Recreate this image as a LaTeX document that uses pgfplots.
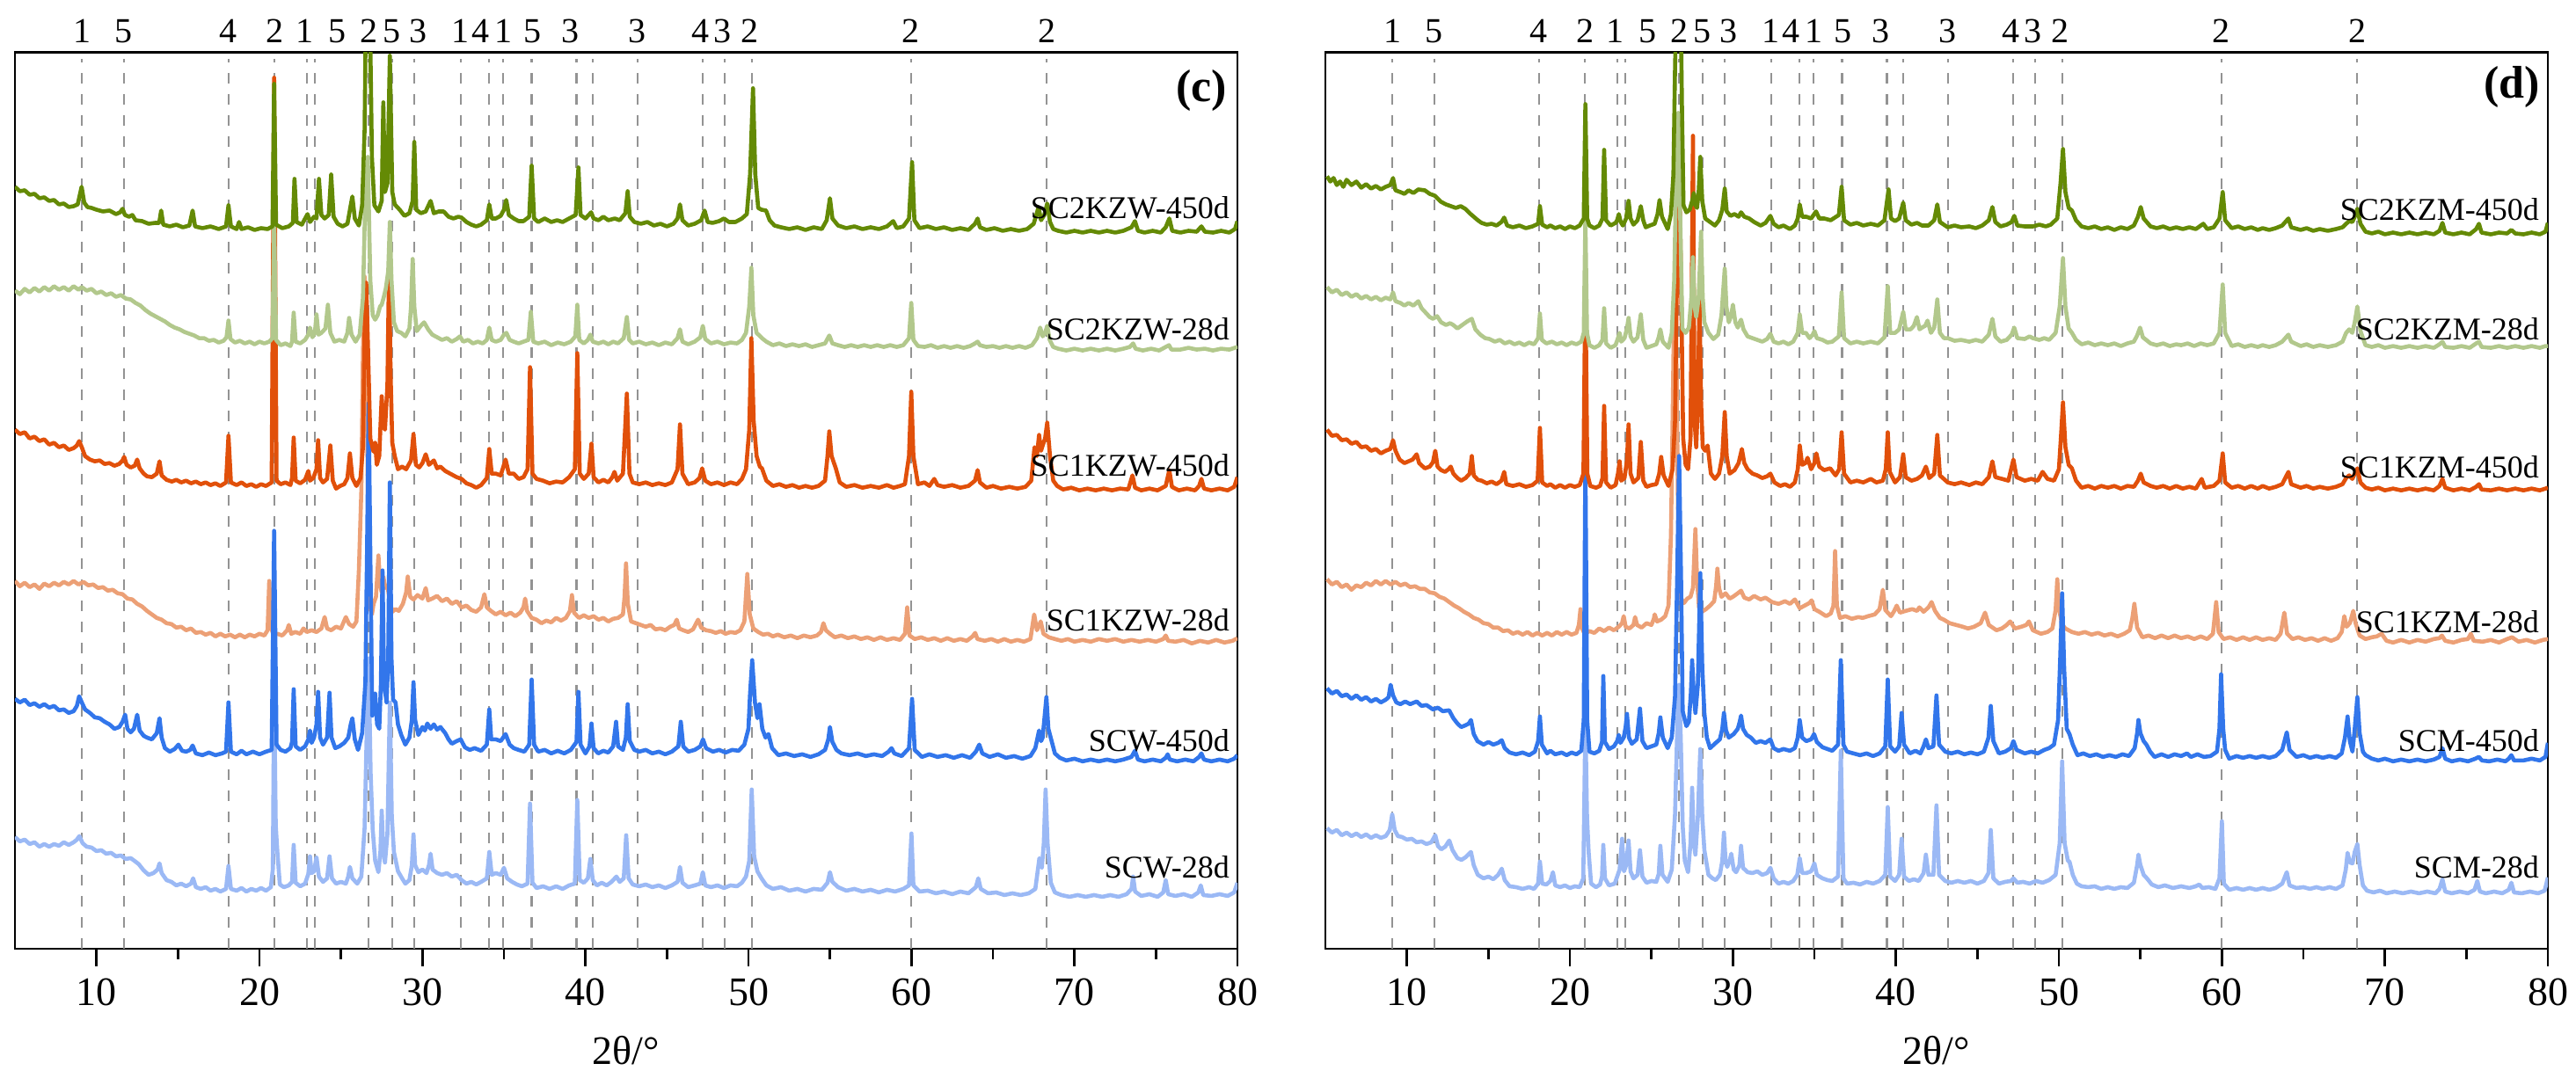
\documentclass[border=0pt]{standalone}
\usepackage{fontspec}
\setmainfont{Liberation Serif}
\usepackage{pgfplots}
\pgfplotsset{compat=1.18}

\definecolor{cdg}{RGB}{100,138,5}
\definecolor{clg}{RGB}{178,200,140}
\definecolor{crd}{RGB}{225,80,10}
\definecolor{csa}{RGB}{236,160,118}
\definecolor{cbl}{RGB}{50,118,235}
\definecolor{clb}{RGB}{155,185,245}

\pgfplotsset{xrd/.style={
  scale only axis, width=347.5pt, height=254.9pt,
  xmin=5, xmax=80, ymin=0, ymax=1019,
  xtick={10,20,...,80}, minor x tick num=1,
  ytick=\empty, xtick pos=left, tick align=outside,
  major tick length=5pt, minor tick length=3pt,
  tick style={black, line width=0.7pt},
  axis line style={line width=0.7pt},
  clip mode=individual,
  xticklabel style={font=\fontsize{11.5}{13}\selectfont},
  /pgf/number format/assume math mode=true,
  anchor=south west,
  every axis plot/.append style={no marks, line width=1.15pt, line join=round},
}}

\tikzset{
  pk/.style={anchor=base, yshift=2.75pt, inner sep=0pt, font=\fontsize{10}{12}\selectfont},
  sl/.style={anchor=base east, inner sep=0pt, font=\fontsize{9}{11}\selectfont},
}

\newcommand{\refl}{%
\addplot[ycomb, no marks, draw=gray!85, line width=0.55pt, dash pattern=on 3pt off 3pt] coordinates {(9.1,1011) (11.7,1011) (18.1,1011) (20.9,1011) (22.9,1011) (23.4,1011) (26.7,1011) (28.15,1011) (29.5,1011) (32.35,1011) (34.1,1011) (34.95,1011) (36.7,1011) (39.45,1011) (40.45,1011) (43.2,1011) (47.2,1011) (48.55,1011) (50.2,1011) (60.0,1011) (68.3,1011)};}

\newcommand{\pklabels}{%
\node[pk] at (axis cs:9.11,1019) {1};
\node[pk] at (axis cs:11.67,1019) {5};
\node[pk] at (axis cs:18.1,1019) {4};
\node[pk] at (axis cs:20.92,1019) {2};
\node[pk] at (axis cs:22.78,1019) {1};
\node[pk] at (axis cs:24.75,1019) {5};
\node[pk] at (axis cs:26.71,1019) {2};
\node[pk] at (axis cs:28.1,1019) {5};
\node[pk] at (axis cs:29.72,1019) {3};
\node[pk] at (axis cs:32.32,1019) {1};
\node[pk] at (axis cs:33.58,1019) {4};
\node[pk] at (axis cs:34.98,1019) {1};
\node[pk] at (axis cs:36.73,1019) {5};
\node[pk] at (axis cs:39.07,1019) {3};
\node[pk] at (axis cs:43.18,1019) {3};
\node[pk] at (axis cs:47.04,1019) {4};
\node[pk] at (axis cs:48.43,1019) {3};
\node[pk] at (axis cs:50.06,1019) {2};
\node[pk] at (axis cs:59.96,1019) {2};
\node[pk] at (axis cs:68.3,1019) {2};
\node[font=\fontsize{11.5}{13}\selectfont] at (axis description cs:0.5,0) [yshift=-29pt] {2θ/°};
}

\begin{document}
\begin{tikzpicture}
\useasboundingbox (0,0) rectangle (732.25pt,306.5pt);

% ---------------- (c) ----------------
\begin{axis}[xrd, at={(4.25pt,36.75pt)}]
\refl
% SCW-28d
\addplot[color=clb] coordinates {(5,127) (5.3,122) (5.6,124) (5.9,119) (6.2,121) (6.5,116) (6.8,119) (7.1,116) (7.4,119) (7.7,117) (8.0,121) (8.3,118) (8.6,121) (8.8,124) (8.95,128) (9.15,120) (9.4,116) (9.7,115) (10.0,111) (10.3,112) (10.6,108) (10.9,109) (11.2,105) (11.5,106) (11.8,102) (12.1,103) (12.4,99) (12.6,96) (12.9,89) (13.2,84) (13.5,86) (13.75,90) (13.87,97) (14.0,86) (14.3,78) (14.6,76) (14.9,72) (15.2,74) (15.5,71) (15.8,74) (15.93,80) (16.1,70) (16.4,68) (16.7,70) (17.0,66) (17.3,68) (17.6,65) (17.95,68) (18.1,94) (18.25,68) (18.6,66) (18.9,69) (19.2,65) (19.5,68) (19.8,66) (20.1,69) (20.4,66) (20.7,70) (20.82,90) (20.9,300) (21.0,140) (21.1,110) (21.25,73) (21.5,70) (21.8,72) (22.0,76) (22.1,118) (22.22,75) (22.5,71) (22.8,74) (23.0,85) (23.1,105) (23.2,86) (23.35,88) (23.5,104) (23.65,82) (23.9,76) (24.15,80) (24.3,105) (24.45,80) (24.7,74) (25.0,76) (25.3,74) (25.45,82) (25.55,93) (25.7,80) (26.0,74) (26.25,82) (26.45,137) (26.6,260) (26.7,330) (26.82,200) (26.95,135) (27.1,100) (27.3,87) (27.42,110) (27.5,157) (27.6,110) (27.7,98) (27.85,130) (28.0,280) (28.12,150) (28.25,110) (28.5,88) (28.75,80) (28.95,74) (29.2,78) (29.35,95) (29.45,130) (29.55,95) (29.75,87) (30.0,90) (30.25,86) (30.4,95) (30.5,108) (30.62,90) (30.9,86) (31.2,84) (31.5,86) (31.8,82) (32.1,84) (32.4,78) (32.7,74) (33.0,76) (33.3,73) (33.6,76) (33.95,80) (34.1,110) (34.25,84) (34.5,86) (34.8,84) (35.0,92) (35.2,80) (35.5,76) (35.8,73) (36.1,71) (36.45,74) (36.6,165) (36.75,75) (37.0,69) (37.4,71) (37.8,68) (38.2,71) (38.6,68) (39.0,72) (39.35,74) (39.5,169) (39.65,78) (39.9,75) (40.15,80) (40.3,102) (40.45,78) (40.7,72) (41.0,75) (41.3,72) (41.6,76) (41.9,82) (42.1,76) (42.35,80) (42.5,129) (42.65,80) (42.9,73) (43.3,71) (43.7,73) (44.1,70) (44.5,72) (44.9,69) (45.3,72) (45.65,76) (45.8,93) (45.95,75) (46.3,70) (46.7,72) (47.05,74) (47.2,87) (47.35,72) (47.7,70) (48.1,72) (48.5,69) (48.9,72) (49.3,71) (49.6,75) (49.85,82) (50.05,100) (50.2,181) (50.35,105) (50.55,88) (50.8,80) (51.1,72) (51.5,68) (52.0,70) (52.5,66) (53.0,68) (53.5,65) (54.0,68) (54.5,67) (54.85,75) (55.0,87) (55.15,76) (55.5,70) (56.0,66) (56.5,68) (57.0,65) (57.5,67) (58.0,64) (58.5,67) (59.0,65) (59.5,68) (59.85,72) (60.0,131) (60.12,72) (60.5,65) (61.0,66) (61.5,63) (62.0,65) (62.5,62) (63.0,65) (63.5,63) (63.95,70) (64.1,80) (64.25,68) (64.7,63) (65.2,64) (65.7,61) (66.2,63) (66.7,61) (67.2,63) (67.6,68) (67.85,103) (68.0,92) (68.12,120) (68.23,181) (68.35,120) (68.55,75) (68.8,64) (69.2,61) (69.7,59) (70.2,61) (70.7,59) (71.2,61) (71.7,59) (72.2,61) (72.7,59) (73.2,62) (73.5,68) (73.6,82) (73.72,65) (74.1,60) (74.6,62) (75.1,59) (75.45,64) (75.6,78) (75.75,62) (76.2,60) (76.7,62) (77.2,59) (77.6,64) (77.75,72) (77.9,61) (78.4,60) (78.9,62) (79.4,60) (79.8,64) (80,75)};
% SC1KZW-28d
\addplot[color=csa] coordinates {(5,418) (5.3,412) (5.6,416) (5.9,411) (6.2,414) (6.5,409) (6.8,415) (7.1,412) (7.4,416) (7.7,413) (8.0,417) (8.3,414) (8.6,418) (8.9,414) (9.2,417) (9.5,413) (9.8,414) (10.1,410) (10.4,411) (10.7,407) (11.0,408) (11.3,404) (11.6,403) (11.9,398) (12.2,397) (12.5,392) (12.8,389) (13.1,384) (13.4,380) (13.7,376) (14.0,374) (14.3,370) (14.6,369) (14.9,365) (15.2,366) (15.5,362) (15.8,364) (16.1,359) (16.4,360) (16.7,357) (17.0,359) (17.3,355) (17.6,358) (17.9,355) (18.2,357) (18.5,354) (18.8,357) (19.1,354) (19.4,357) (19.7,355) (20.0,358) (20.3,356) (20.5,362) (20.6,418) (20.72,365) (20.85,357) (21.1,358) (21.4,356) (21.7,362) (21.8,368) (21.95,358) (22.2,360) (22.5,358) (22.7,364) (22.9,360) (23.2,362) (23.5,360) (23.8,364) (24.0,377) (24.15,364) (24.4,362) (24.7,366) (25.0,364) (25.3,377) (25.5,369) (25.75,366) (25.95,372) (26.1,430) (26.25,520) (26.35,680) (26.45,764) (26.55,680) (26.65,520) (26.75,390) (26.9,380) (27.0,392) (27.15,400) (27.3,447) (27.4,415) (27.5,405) (27.6,423) (27.72,410) (27.85,413) (28.0,395) (28.15,383) (28.35,386) (28.55,384) (28.8,392) (29.0,405) (29.1,423) (29.25,400) (29.45,397) (29.7,402) (30.0,398) (30.2,410) (30.35,396) (30.6,398) (30.9,401) (31.2,395) (31.5,398) (31.8,392) (32.1,395) (32.4,388) (32.7,390) (33.0,385) (33.3,383) (33.6,388) (33.8,403) (33.95,388) (34.2,384) (34.5,380) (34.8,383) (35.1,379) (35.4,382) (35.7,378) (36.0,382) (36.2,388) (36.3,398) (36.42,384) (36.7,376) (37.0,374) (37.3,370) (37.6,373) (37.9,371) (38.2,376) (38.5,373) (38.8,376) (39.05,384) (39.17,402) (39.3,382) (39.6,376) (39.9,379) (40.2,376) (40.5,378) (40.8,374) (41.1,376) (41.4,372) (41.7,375) (42.0,376) (42.3,380) (42.4,400) (42.49,438) (42.6,392) (42.8,372) (43.1,370) (43.4,368) (43.7,366) (44.0,368) (44.3,363) (44.6,364) (44.9,362) (45.2,366) (45.45,368) (45.6,374) (45.75,364) (46.0,362) (46.3,360) (46.6,363) (46.91,374) (47.1,365) (47.4,362) (47.7,361) (48.0,359) (48.3,361) (48.6,358) (48.9,360) (49.2,359) (49.5,362) (49.75,372) (49.93,426) (50.08,380) (50.3,364) (50.6,360) (50.9,357) (51.2,358) (51.5,355) (51.8,357) (52.2,354) (52.6,356) (53.0,353) (53.4,356) (53.8,354) (54.2,356) (54.45,360) (54.6,370) (54.75,362) (55.0,358) (55.3,354) (55.7,356) (56.1,353) (56.5,355) (56.9,352) (57.3,354) (57.7,351) (58.1,354) (58.5,351) (58.9,353) (59.3,351) (59.6,358) (59.74,388) (59.88,356) (60.2,352) (60.6,354) (61.0,351) (61.4,353) (61.8,350) (62.2,353) (62.6,350) (63.0,352) (63.4,350) (63.75,355) (63.91,359) (64.05,352) (64.5,350) (64.9,352) (65.3,349) (65.7,352) (66.1,349) (66.5,351) (66.9,349) (67.3,352) (67.53,380) (67.7,362) (67.93,372) (68.1,358) (68.43,354) (68.8,352) (69.2,350) (69.6,352) (70.0,349) (70.5,351) (71.0,349) (71.5,352) (72.0,350) (72.5,352) (73.0,349) (73.5,351) (74.0,349) (74.5,351) (75.0,349) (75.45,352) (75.6,356) (75.75,350) (76.2,349) (76.7,351) (77.2,347) (77.7,350) (78.2,348) (78.7,351) (79.2,348) (79.7,350) (80,353)};
% SCW-450d
\addplot[color=cbl] coordinates {(5,284) (5.3,280) (5.6,283) (5.9,277) (6.2,279) (6.5,275) (6.8,278) (7.1,274) (7.4,276) (7.7,271) (8.0,272) (8.3,268) (8.6,270) (8.8,276) (8.94,287) (9.1,280) (9.3,272) (9.6,268) (9.9,263) (10.2,262) (10.5,258) (10.8,255) (11.1,250) (11.4,252) (11.6,258) (11.76,266) (11.9,250) (12.1,246) (12.3,250) (12.5,266) (12.65,248) (12.9,242) (13.1,240) (13.4,238) (13.7,245) (13.87,262) (14.0,240) (14.2,228) (14.5,224) (14.8,227) (15.03,232) (15.25,225) (15.5,224) (15.75,226) (15.9,231) (16.1,222) (16.5,220) (16.9,223) (17.3,220) (17.7,222) (17.95,224) (18.1,280) (18.25,224) (18.6,221) (18.9,225) (19.2,221) (19.6,224) (20.0,221) (20.4,224) (20.75,226) (20.9,475) (21.05,232) (21.3,226) (21.6,224) (21.9,228) (22.0,235) (22.1,295) (22.22,230) (22.5,226) (22.8,230) (23.0,238) (23.1,248) (23.2,234) (23.35,240) (23.5,255) (23.6,292) (23.72,240) (23.9,232) (24.15,240) (24.3,291) (24.42,240) (24.65,228) (24.9,230) (25.2,234) (25.45,240) (25.6,255) (25.7,262) (25.85,238) (26.05,226) (26.3,245) (26.5,303) (26.6,450) (26.7,620) (26.8,450) (26.92,265) (27.1,290) (27.22,255) (27.35,250) (27.45,300) (27.55,430) (27.65,300) (27.8,280) (27.9,330) (28.0,530) (28.1,330) (28.2,283) (28.35,280) (28.5,255) (28.7,243) (28.95,232) (29.2,240) (29.35,260) (29.45,303) (29.55,260) (29.75,243) (30.0,252) (30.15,248) (30.3,256) (30.5,250) (30.7,255) (30.9,249) (31.1,252) (31.4,245) (31.6,238) (31.8,233) (32.1,236) (32.35,238) (32.6,229) (32.9,226) (33.2,228) (33.6,225) (33.95,232) (34.1,272) (34.22,238) (34.5,238) (34.8,236) (35.1,244) (35.35,232) (35.6,228) (35.9,226) (36.25,224) (36.55,232) (36.7,306) (36.85,232) (37.1,224) (37.5,226) (37.9,222) (38.3,225) (38.7,222) (39.1,226) (39.45,235) (39.57,292) (39.7,232) (40.0,222) (40.25,230) (40.37,256) (40.5,228) (40.78,222) (41.1,225) (41.4,223) (41.7,230) (41.88,258) (42.0,230) (42.3,226) (42.48,240) (42.59,278) (42.72,236) (43.0,226) (43.3,224) (43.7,226) (44.1,222) (44.5,224) (44.9,221) (45.3,224) (45.7,230) (45.85,258) (46.0,230) (46.31,224) (46.7,226) (47.05,230) (47.21,238) (47.4,228) (47.82,224) (48.2,226) (48.6,223) (49.0,226) (49.4,225) (49.75,232) (50.0,250) (50.1,290) (50.23,328) (50.4,280) (50.55,262) (50.68,278) (50.85,250) (51.05,240) (51.23,244) (51.45,228) (51.84,220) (52.3,222) (52.8,219) (53.3,221) (53.8,218) (54.3,221) (54.7,226) (54.9,238) (55.0,252) (55.15,235) (55.4,226) (55.7,222) (56.2,220) (56.7,222) (57.2,219) (57.7,221) (58.2,219) (58.6,224) (58.78,228) (58.95,222) (59.4,219) (59.85,228) (60.04,284) (60.2,226) (60.64,218) (61.1,221) (61.6,218) (62.1,220) (62.6,217) (63.1,220) (63.6,217) (63.95,224) (64.16,232) (64.35,222) (64.8,218) (65.3,221) (65.8,217) (66.3,219) (66.8,216) (67.3,219) (67.6,228) (67.83,248) (67.95,236) (68.05,240) (68.16,262) (68.28,286) (68.4,250) (68.6,236) (68.8,222) (69.1,217) (69.5,214) (70.0,216) (70.5,213) (71.0,215) (71.5,213) (72.0,215) (72.5,213) (73.0,215) (73.5,218) (73.71,225) (73.9,215) (74.3,213) (74.8,215) (75.3,213) (75.6,217) (75.72,221) (75.85,215) (76.3,213) (76.8,215) (77.3,213) (77.65,218) (77.79,222) (77.95,215) (78.4,213) (78.9,215) (79.4,213) (79.8,216) (80,220)};
% SC1KZW-450d
\addplot[color=crd] coordinates {(5,590) (5.3,585) (5.6,587) (5.9,580) (6.2,582) (6.5,577) (6.8,579) (7.1,573) (7.4,575) (7.7,570) (8.0,572) (8.3,567) (8.6,569) (8.8,572) (8.94,577) (9.1,570) (9.3,560) (9.6,556) (9.9,554) (10.2,555) (10.5,551) (10.8,552) (11.1,549) (11.4,551) (11.6,555) (11.7,559) (11.85,550) (12.1,547) (12.35,549) (12.5,556) (12.65,546) (12.9,540) (13.1,537) (13.4,536) (13.7,540) (13.87,554) (14.0,538) (14.3,533) (14.63,531) (14.9,533) (15.2,530) (15.5,532) (15.8,529) (16.1,531) (16.4,528) (16.7,530) (17.0,527) (17.3,529) (17.6,526) (17.95,530) (18.1,583) (18.25,530) (18.6,527) (18.9,530) (19.2,526) (19.5,528) (19.8,525) (20.1,528) (20.4,526) (20.75,530) (20.9,990) (21.05,532) (21.3,528) (21.6,530) (21.9,527) (22.0,535) (22.1,581) (22.22,532) (22.5,529) (22.8,533) (22.9,538) (23.0,543) (23.1,532) (23.3,535) (23.5,545) (23.6,578) (23.72,535) (23.9,530) (24.15,534) (24.35,572) (24.5,532) (24.7,523) (24.95,526) (25.2,528) (25.4,535) (25.55,563) (25.7,535) (25.95,526) (26.2,535) (26.35,570) (26.45,700) (26.55,757) (26.65,690) (26.8,580) (27.0,565) (27.1,575) (27.2,550) (27.35,560) (27.5,628) (27.6,595) (27.7,590) (27.85,640) (27.95,775) (28.05,650) (28.15,575) (28.3,560) (28.5,545) (28.75,548) (29.0,545) (29.3,555) (29.45,585) (29.6,550) (29.8,547) (30.0,552) (30.2,562) (30.4,550) (30.7,555) (30.9,546) (31.1,548) (31.4,543) (31.7,540) (32.1,536) (32.4,534) (32.7,529) (33.0,527) (33.3,524) (33.6,527) (33.95,535) (34.1,568) (34.25,540) (34.5,540) (34.8,538) (35.1,556) (35.3,540) (35.6,540) (35.9,534) (36.2,536) (36.45,545) (36.6,661) (36.75,540) (37.0,534) (37.4,532) (37.8,529) (38.2,531) (38.6,530) (39.0,536) (39.35,545) (39.5,677) (39.65,540) (39.9,534) (40.2,540) (40.37,574) (40.5,536) (40.8,530) (41.1,533) (41.4,530) (41.65,536) (41.78,542) (41.95,532) (42.3,540) (42.54,631) (42.7,540) (42.9,530) (43.3,528) (43.7,530) (44.1,527) (44.5,529) (44.9,527) (45.3,530) (45.65,545) (45.8,596) (45.95,540) (46.3,528) (46.7,530) (47.0,535) (47.16,546) (47.35,532) (47.7,528) (48.1,530) (48.5,527) (48.9,530) (49.3,528) (49.6,534) (49.85,545) (50.05,590) (50.18,694) (50.32,600) (50.5,560) (50.7,548) (50.83,546) (51.1,532) (51.5,526) (51.9,528) (52.3,525) (52.7,527) (53.1,524) (53.5,526) (53.9,524) (54.3,526) (54.7,532) (54.85,560) (54.96,588) (55.1,560) (55.36,546) (55.6,530) (56.0,525) (56.5,527) (57.0,524) (57.5,526) (58.0,524) (58.5,527) (58.9,524) (59.3,526) (59.6,528) (59.85,560) (59.99,633) (60.12,560) (60.4,528) (60.8,530) (61.1,526) (61.4,534) (61.6,527) (62.0,525) (62.5,527) (63.0,524) (63.5,526) (63.9,532) (64.06,544) (64.2,530) (64.6,524) (65.0,526) (65.5,523) (66.0,525) (66.5,523) (67.0,525) (67.35,532) (67.55,570) (67.7,560) (67.83,584) (67.95,566) (68.05,572) (68.2,580) (68.33,598) (68.5,560) (68.7,532) (68.94,526) (69.3,522) (69.8,524) (70.3,521) (70.8,523) (71.3,521) (71.8,523) (72.3,521) (72.8,523) (73.3,522) (73.56,538) (73.72,524) (74.1,521) (74.6,523) (75.1,521) (75.6,526) (75.82,544) (75.98,525) (76.4,521) (76.9,523) (77.4,521) (77.65,526) (77.79,534) (77.95,523) (78.4,521) (78.9,523) (79.4,521) (79.8,525) (80,536)};
% SC2KZW-28d
\addplot[color=clg] coordinates {(5,748) (5.3,744) (5.6,750) (5.9,746) (6.2,751) (6.5,747) (6.8,752) (7.1,748) (7.4,753) (7.7,749) (8.0,752) (8.3,748) (8.6,753) (8.9,749) (9.1,752) (9.4,748) (9.7,750) (10.0,745) (10.3,747) (10.6,743) (10.9,745) (11.2,741) (11.5,743) (11.8,739) (12.1,738) (12.4,734) (12.7,731) (13.0,726) (13.3,722) (13.6,719) (13.9,716) (14.2,713) (14.5,709) (14.8,706) (15.1,704) (15.4,701) (15.7,699) (16.0,697) (16.3,694) (16.6,694) (16.9,691) (17.2,692) (17.5,689) (17.8,691) (17.98,695) (18.1,714) (18.22,693) (18.5,689) (18.8,691) (19.1,688) (19.4,690) (19.7,687) (20.0,690) (20.3,688) (20.6,690) (20.8,694) (20.9,830) (21.02,692) (21.3,686) (21.6,688) (21.9,685) (22.0,690) (22.1,723) (22.22,690) (22.5,688) (22.8,692) (23.0,698) (23.1,706) (23.25,695) (23.4,700) (23.5,721) (23.62,698) (23.8,700) (24.05,705) (24.2,732) (24.35,700) (24.6,690) (24.9,692) (25.2,690) (25.4,700) (25.5,717) (25.65,698) (25.9,690) (26.15,698) (26.35,740) (26.5,860) (26.65,900) (26.8,760) (26.95,720) (27.1,715) (27.25,720) (27.4,730) (27.5,732) (27.62,740) (27.75,750) (27.9,770) (28.0,826) (28.1,760) (28.25,712) (28.45,702) (28.7,700) (28.95,696) (29.2,705) (29.3,730) (29.4,784) (29.5,730) (29.65,702) (29.9,708) (30.1,712) (30.35,704) (30.6,698) (30.9,695) (31.2,692) (31.5,694) (31.8,690) (32.1,693) (32.3,696) (32.5,690) (32.8,692) (33.1,688) (33.4,690) (33.7,688) (33.95,692) (34.1,706) (34.25,692) (34.5,690) (34.8,692) (35.0,698) (35.15,700) (35.35,692) (35.6,690) (35.9,688) (36.2,690) (36.5,692) (36.65,724) (36.8,690) (37.1,688) (37.5,690) (37.9,686) (38.3,689) (38.7,687) (39.1,690) (39.38,696) (39.5,732) (39.62,692) (39.9,688) (40.15,692) (40.3,698) (40.45,690) (40.8,688) (41.1,690) (41.4,687) (41.7,690) (42.0,688) (42.35,694) (42.54,718) (42.68,692) (42.9,688) (43.3,690) (43.7,687) (44.1,689) (44.5,686) (44.9,689) (45.3,687) (45.65,694) (45.8,704) (45.95,690) (46.3,687) (46.7,690) (47.05,695) (47.2,708) (47.35,693) (47.7,688) (48.1,690) (48.5,687) (48.9,689) (49.3,688) (49.6,692) (49.85,700) (50.05,730) (50.18,774) (50.3,720) (50.5,700) (50.83,694) (51.1,690) (51.5,686) (51.9,688) (52.3,685) (52.7,687) (53.1,685) (53.5,687) (53.9,684) (54.3,686) (54.7,688) (54.96,697) (55.15,688) (55.5,686) (55.9,684) (56.3,686) (56.7,684) (57.1,686) (57.5,684) (57.9,686) (58.3,684) (58.7,686) (59.1,684) (59.5,686) (59.85,694) (59.99,734) (60.12,692) (60.4,685) (60.8,684) (61.2,686) (61.6,683) (62.0,685) (62.4,683) (62.8,685) (63.2,683) (63.6,685) (63.9,688) (64.06,690) (64.2,686) (64.6,684) (65.0,685) (65.4,683) (65.8,685) (66.2,683) (66.6,685) (67.0,683) (67.4,686) (67.7,694) (67.9,706) (68.05,696) (68.2,700) (68.33,708) (68.48,692) (68.7,684) (69.0,682) (69.5,680) (70.0,682) (70.5,680) (71.0,682) (71.5,680) (72.0,682) (72.5,680) (73.0,682) (73.4,684) (73.6,688) (73.75,682) (74.2,680) (74.7,682) (75.2,680) (75.6,684) (75.8,686) (75.95,681) (76.5,681) (77.0,683) (77.5,681) (78.0,682) (78.5,680) (79.0,682) (79.5,681) (80,684)};
% SC2KZW-450d
\addplot[color=cdg] coordinates {(5,866) (5.3,861) (5.6,862) (5.9,857) (6.2,858) (6.5,853) (6.8,854) (7.1,850) (7.4,851) (7.7,846) (8.0,847) (8.3,843) (8.6,844) (8.85,846) (9.09,866) (9.25,848) (9.45,843) (9.7,842) (10.0,840) (10.4,838) (10.8,839) (11.2,835) (11.45,837) (11.6,841) (11.75,834) (12.0,832) (12.2,834) (12.4,828) (12.8,827) (13.2,824) (13.6,825) (13.85,825) (13.97,839) (14.1,823) (14.5,821) (14.9,823) (15.3,820) (15.7,822) (15.9,839) (16.05,821) (16.5,819) (17.0,821) (17.5,818) (17.95,821) (18.1,845) (18.25,821) (18.6,818) (18.75,826) (18.9,818) (19.3,820) (19.7,817) (20.1,819) (20.5,818) (20.8,821) (20.9,983) (21.02,823) (21.4,819) (21.8,821) (22.05,825) (22.15,875) (22.28,826) (22.6,823) (22.95,835) (23.1,826) (23.35,832) (23.5,830) (23.65,875) (23.8,834) (24.0,830) (24.25,834) (24.4,880) (24.55,832) (24.8,824) (25.1,821) (25.4,824) (25.6,845) (25.7,855) (25.85,830) (26.1,822) (26.3,845) (26.45,930) (26.55,1100) (26.75,1100) (26.9,900) (27.05,845) (27.3,838) (27.5,850) (27.6,962) (27.7,860) (27.85,870) (28.0,1015) (28.15,860) (28.3,846) (28.6,840) (28.9,833) (29.2,836) (29.4,850) (29.5,917) (29.62,840) (29.9,836) (30.2,838) (30.5,850) (30.7,836) (31.0,838) (31.3,838) (31.6,832) (31.9,830) (32.2,832) (32.4,831) (32.7,826) (33.0,823) (33.3,821) (33.6,823) (33.95,828) (34.1,846) (34.25,830) (34.5,830) (34.8,833) (35.0,840) (35.14,851) (35.3,834) (35.6,830) (35.9,827) (36.2,827) (36.55,832) (36.7,890) (36.85,830) (37.1,826) (37.5,830) (37.9,826) (38.26,828) (38.6,826) (39.0,830) (39.4,834) (39.57,888) (39.7,834) (40.0,830) (40.2,834) (40.35,837) (40.5,830) (40.8,828) (41.1,832) (41.4,828) (41.8,830) (42.1,828) (42.45,836) (42.59,861) (42.72,832) (43.0,826) (43.4,824) (43.8,826) (44.2,822) (44.6,824) (45.0,821) (45.4,824) (45.65,830) (45.8,846) (45.95,828) (46.3,822) (46.7,824) (47.1,828) (47.31,839) (47.5,826) (47.8,825) (48.2,827) (48.5,830) (48.8,826) (49.2,826) (49.6,830) (49.9,835) (50.1,880) (50.28,978) (50.42,880) (50.6,842) (50.8,840) (51.08,839) (51.3,828) (51.6,822) (52.0,820) (52.5,818) (53.0,820) (53.5,817) (54.0,820) (54.5,818) (54.8,828) (55.0,853) (55.15,830) (55.5,822) (56.0,819) (56.5,821) (57.0,818) (57.5,820) (58.0,818) (58.5,821) (58.88,827) (59.1,819) (59.5,821) (59.85,830) (60.04,894) (60.18,828) (60.5,819) (61.0,821) (61.5,818) (62.0,820) (62.5,817) (63.0,819) (63.5,817) (63.9,824) (64.06,830) (64.2,820) (64.6,817) (65.1,819) (65.6,816) (66.1,818) (66.6,816) (67.1,818) (67.5,824) (67.8,843) (67.95,828) (68.15,834) (68.33,847) (68.5,826) (68.7,818) (69.0,816) (69.5,814) (70.0,816) (70.5,814) (71.0,816) (71.5,814) (72.0,816) (72.5,814) (73.0,816) (73.5,820) (73.71,827) (73.9,816) (74.3,814) (74.8,816) (75.3,814) (75.6,820) (75.82,830) (76.0,816) (76.5,814) (77.0,816) (77.5,815) (77.79,821) (78.0,815) (78.5,814) (79.0,816) (79.5,814) (79.85,818) (80,827)};
\pklabels
\node[sl] at (axis cs:79.55,830) {SC2KZW-450d};
\node[sl] at (axis cs:79.55,692) {SC2KZW-28d};
\node[sl] at (axis cs:79.55,537) {SC1KZW-450d};
\node[sl] at (axis cs:79.55,361) {SC1KZW-28d};
\node[sl] at (axis cs:79.55,224) {SCW-450d};
\node[sl] at (axis cs:79.55,80) {SCW-28d};
\node[font=\bfseries\fontsize{13}{15}\selectfont] at (axis cs:77.8,975) {(c)};
\end{axis}

% ---------------- (d) ----------------
\begin{axis}[xrd, at={(376.75pt,36.75pt)}]
\refl
% SCM-28d
\addplot[color=clb] coordinates {(5.1,137) (5.4,132) (5.7,135) (6.0,129) (6.3,132) (6.6,128) (6.9,131) (7.2,127) (7.5,130) (7.8,126) (8.1,129) (8.4,126) (8.7,128) (8.95,135) (9.1,153) (9.25,135) (9.45,128) (9.7,127) (10.0,124) (10.3,125) (10.6,121) (10.9,122) (11.2,119) (11.5,121) (11.74,129) (11.9,117) (12.1,113) (12.35,116) (12.6,123) (12.8,112) (13.1,103) (13.35,101) (13.6,104) (13.93,110) (14.1,95) (14.35,84) (14.7,80) (15.0,82) (15.3,79) (15.6,84) (15.82,91) (16.0,78) (16.3,71) (16.7,70) (17.1,68) (17.5,70) (17.8,68) (18.05,74) (18.16,99) (18.3,74) (18.56,73) (18.8,77) (18.96,87) (19.1,72) (19.4,70) (19.7,72) (20.0,69) (20.3,71) (20.6,70) (20.82,80) (20.95,260) (21.05,150) (21.15,110) (21.3,74) (21.6,70) (21.85,73) (21.97,82) (22.05,118) (22.15,80) (22.4,72) (22.75,74) (23.05,90) (23.2,125) (23.32,88) (23.45,95) (23.6,123) (23.72,88) (23.9,80) (24.15,84) (24.3,112) (24.45,82) (24.7,75) (25.0,77) (25.3,76) (25.45,85) (25.55,117) (25.68,84) (26.0,76) (26.25,90) (26.45,153) (26.6,260) (26.7,300) (26.8,240) (26.92,140) (27.05,100) (27.25,87) (27.4,120) (27.5,183) (27.6,120) (27.7,107) (27.85,150) (28.0,227) (28.12,150) (28.25,112) (28.5,84) (28.75,80) (28.95,78) (29.2,84) (29.35,100) (29.45,132) (29.55,100) (29.65,93) (29.8,100) (29.9,108) (30.05,90) (30.2,87) (30.4,95) (30.5,117) (30.62,92) (30.9,87) (31.2,86) (31.5,88) (31.8,84) (32.1,86) (32.3,92) (32.5,80) (32.8,74) (33.1,76) (33.4,74) (33.7,77) (33.95,84) (34.1,103) (34.25,86) (34.5,86) (34.8,88) (35.0,97) (35.15,84) (35.5,80) (35.8,78) (36.1,77) (36.45,82) (36.62,225) (36.78,80) (37.0,74) (37.4,75) (37.8,73) (38.2,76) (38.6,74) (39.0,77) (39.35,84) (39.5,161) (39.65,82) (39.95,77) (40.2,84) (40.35,125) (40.5,82) (40.8,77) (41.1,79) (41.4,77) (41.7,86) (41.84,107) (42.0,84) (42.3,84) (42.49,163) (42.65,84) (43.03,77) (43.4,75) (43.8,77) (44.2,75) (44.6,77) (45.0,74) (45.4,77) (45.68,86) (45.82,135) (45.98,80) (46.32,74) (46.7,76) (47.05,77) (47.21,80) (47.45,75) (47.8,76) (48.2,74) (48.6,77) (49.0,75) (49.4,78) (49.8,84) (50.05,120) (50.2,213) (50.35,120) (50.55,100) (50.65,99) (50.85,84) (51.1,74) (51.39,71) (51.8,70) (52.2,71) (52.6,68) (53.0,70) (53.4,68) (53.8,70) (54.2,69) (54.6,75) (54.8,95) (54.88,107) (55.0,95) (55.2,84) (55.4,80) (55.7,73) (56.1,70) (56.5,72) (57.0,69) (57.5,71) (58.0,69) (58.4,71) (58.61,73) (58.8,69) (59.2,70) (59.6,68) (59.85,80) (60.0,145) (60.12,74) (60.45,67) (60.9,69) (61.3,67) (61.7,69) (62.1,67) (62.5,69) (62.9,67) (63.3,69) (63.7,74) (63.98,87) (64.15,72) (64.58,69) (65.0,70) (65.4,68) (65.8,70) (66.2,68) (66.6,70) (67.0,68) (67.4,72) (67.6,90) (67.71,109) (67.85,98) (68.01,97) (68.15,110) (68.31,119) (68.45,95) (68.65,72) (68.9,66) (69.3,64) (69.7,66) (70.1,63) (70.6,65) (71.1,63) (71.6,65) (72.1,63) (72.6,65) (73.1,63) (73.35,68) (73.53,79) (73.7,65) (74.1,63) (74.6,65) (75.1,63) (75.5,67) (75.67,77) (75.83,65) (76.2,63) (76.7,65) (77.2,63) (77.6,67) (77.76,75) (77.92,64) (78.4,63) (78.9,65) (79.4,63) (79.8,66) (80,81)};
% SC1KZM-28d
\addplot[color=csa] coordinates {(5.1,420) (5.4,414) (5.7,417) (6.0,411) (6.3,414) (6.6,408) (6.9,413) (7.2,411) (7.5,416) (7.8,413) (8.1,418) (8.4,414) (8.7,418) (9.0,414) (9.3,417) (9.6,413) (9.9,415) (10.2,411) (10.5,412) (10.8,409) (11.1,409) (11.4,405) (11.7,404) (12.0,400) (12.3,398) (12.6,394) (12.9,390) (13.2,387) (13.5,383) (13.8,380) (14.1,376) (14.4,374) (14.7,370) (15.0,369) (15.3,365) (15.6,365) (15.9,361) (16.2,362) (16.5,358) (16.8,360) (17.1,357) (17.4,360) (17.7,356) (18.0,359) (18.3,356) (18.6,359) (18.9,356) (19.2,360) (19.5,357) (19.8,360) (20.1,357) (20.4,359) (20.55,368) (20.65,386) (20.75,364) (20.9,358) (21.2,361) (21.5,359) (21.8,364) (22.1,361) (22.4,365) (22.7,362) (23.0,366) (23.2,370) (23.3,378) (23.42,366) (23.65,364) (23.9,368) (24.0,377) (24.12,368) (24.4,365) (24.7,370) (25.0,368) (25.15,375) (25.2,380) (25.35,372) (25.6,374) (25.85,378) (26.05,390) (26.2,470) (26.3,600) (26.4,740) (26.45,768) (26.55,650) (26.62,520) (26.72,400) (26.85,397) (27.0,393) (27.2,398) (27.4,400) (27.55,410) (27.7,477) (27.8,420) (27.92,388) (28.1,383) (28.35,386) (28.6,390) (28.85,395) (28.97,412) (29.05,432) (29.15,410) (29.3,400) (29.55,404) (29.8,398) (30.0,400) (30.3,404) (30.5,407) (30.7,399) (31.0,397) (31.3,401) (31.7,397) (32.0,399) (32.4,394) (32.8,392) (33.2,395) (33.5,392) (33.8,397) (34.1,387) (34.4,390) (34.7,393) (34.83,396) (35.0,386) (35.3,383) (35.72,378) (36.0,381) (36.17,390) (36.27,452) (36.38,390) (36.57,376) (36.9,378) (37.3,375) (37.7,377) (37.96,376) (38.3,378) (38.7,380) (39.0,386) (39.2,408) (39.35,385) (39.7,378) (39.9,384) (40.05,390) (40.25,382) (40.6,384) (41.0,386) (41.3,384) (41.44,388) (41.7,383) (42.0,388) (42.19,394) (42.4,384) (42.7,376) (42.94,374) (43.3,370) (43.7,368) (44.1,366) (44.43,364) (44.8,366) (45.2,370) (45.47,382) (45.7,368) (46.17,362) (46.5,364) (46.8,368) (47.01,372) (47.3,364) (47.7,366) (48.0,368) (48.16,372) (48.4,362) (48.9,358) (49.3,360) (49.6,364) (49.8,385) (49.9,420) (50.02,385) (50.2,368) (50.4,364) (50.8,360) (51.2,358) (51.6,360) (52.0,357) (52.4,359) (52.8,356) (53.2,358) (53.6,355) (54.0,358) (54.35,362) (54.5,375) (54.63,392) (54.8,365) (55.12,354) (55.5,356) (55.9,353) (56.3,356) (56.7,353) (57.1,356) (57.5,353) (57.9,355) (58.3,352) (58.7,355) (59.1,352) (59.45,358) (59.65,394) (59.8,360) (60.1,352) (60.5,354) (60.9,351) (61.3,354) (61.7,351) (62.1,354) (62.5,351) (62.9,353) (63.3,351) (63.6,358) (63.83,382) (64.0,358) (64.33,352) (64.7,354) (65.1,351) (65.5,353) (65.9,350) (66.3,353) (66.7,350) (67.1,353) (67.35,360) (67.51,378) (67.65,366) (67.85,370) (68.06,384) (68.2,370) (68.45,356) (68.81,352) (69.2,354) (69.5,355) (69.8,358) (70.1,350) (70.5,348) (71.0,351) (71.5,348) (72.0,351) (72.5,349) (73.0,352) (73.35,353) (73.5,356) (73.7,350) (74.2,348) (74.7,351) (75.1,352) (75.27,358) (75.45,350) (76.0,349) (76.5,351) (77.0,348) (77.5,352) (77.8,354) (78.2,349) (78.7,351) (79.2,348) (79.7,351) (80,352)};
% SCM-450d
\addplot[color=cbl] coordinates {(5.1,296) (5.4,290) (5.7,293) (6.0,287) (6.3,289) (6.6,284) (6.9,288) (7.2,283) (7.5,286) (7.8,281) (8.1,284) (8.4,280) (8.7,283) (8.88,286) (9.0,300) (9.15,288) (9.35,280) (9.6,278) (9.9,281) (10.2,278) (10.6,281) (10.9,276) (11.2,277) (11.6,272) (11.9,274) (12.2,270) (12.59,271) (12.85,262) (13.1,256) (13.33,252) (13.6,254) (13.8,256) (13.93,260) (14.1,244) (14.33,236) (14.7,232) (15.0,235) (15.3,232) (15.6,234) (15.82,237) (16.0,228) (16.3,223) (16.7,221) (17.1,223) (17.5,220) (17.85,224) (18.05,236) (18.16,264) (18.28,232) (18.6,222) (18.8,225) (19.1,221) (19.5,223) (19.8,220) (20.1,223) (20.4,221) (20.7,225) (20.85,260) (20.95,560) (21.06,260) (21.2,224) (21.5,222) (21.8,225) (21.97,235) (22.05,310) (22.15,235) (22.4,227) (22.7,230) (22.9,236) (23.0,243) (23.1,234) (23.3,240) (23.42,252) (23.5,267) (23.62,240) (23.8,233) (24.1,238) (24.3,273) (24.45,236) (24.7,228) (25.0,230) (25.3,232) (25.45,245) (25.55,263) (25.7,240) (26.0,228) (26.25,240) (26.45,287) (26.58,420) (26.7,560) (26.82,420) (26.92,270) (27.05,260) (27.15,253) (27.3,258) (27.42,290) (27.5,328) (27.6,290) (27.7,268) (27.85,300) (28.0,427) (28.12,320) (28.25,268) (28.4,240) (28.6,228) (28.95,234) (29.2,238) (29.35,250) (29.45,268) (29.58,248) (29.75,240) (30.05,244) (30.3,250) (30.42,258) (30.5,265) (30.62,250) (30.85,243) (31.1,240) (31.4,234) (31.7,236) (32.0,234) (32.3,238) (32.5,228) (32.8,225) (33.1,227) (33.5,225) (33.8,228) (33.98,240) (34.1,260) (34.25,240) (34.5,236) (34.8,238) (34.98,244) (35.15,235) (35.5,229) (35.8,227) (36.1,225) (36.45,232) (36.62,328) (36.78,232) (37.0,224) (37.4,222) (37.8,220) (38.2,222) (38.6,219) (39.0,222) (39.35,230) (39.5,306) (39.65,230) (39.95,224) (40.2,230) (40.35,268) (40.5,232) (40.85,222) (41.2,225) (41.5,222) (41.7,230) (41.84,238) (42.0,228) (42.3,230) (42.49,288) (42.65,232) (43.03,224) (43.4,222) (43.8,224) (44.2,221) (44.6,223) (45.0,221) (45.4,224) (45.68,240) (45.82,276) (45.98,236) (46.32,222) (46.7,224) (47.05,228) (47.21,236) (47.4,226) (47.91,222) (48.3,224) (48.7,222) (49.1,226) (49.4,228) (49.7,232) (49.95,260) (50.08,330) (50.2,404) (50.32,320) (50.48,250) (50.65,244) (50.85,232) (51.14,220) (51.5,222) (51.9,219) (52.3,221) (52.7,218) (53.1,220) (53.5,218) (53.9,221) (54.3,219) (54.65,228) (54.8,245) (54.88,260) (55.0,245) (55.2,236) (55.37,232) (55.6,224) (55.87,218) (56.3,221) (56.7,218) (57.1,221) (57.5,219) (57.86,222) (58.1,218) (58.5,221) (58.9,218) (59.3,219) (59.7,224) (59.85,250) (59.95,312) (60.08,250) (60.2,226) (60.45,216) (60.9,219) (61.3,217) (61.7,219) (62.1,217) (62.5,219) (62.9,217) (63.3,219) (63.7,226) (63.98,246) (64.15,226) (64.58,218) (65.0,220) (65.4,217) (65.8,219) (66.2,217) (66.6,219) (67.0,217) (67.35,222) (67.55,240) (67.71,264) (67.85,236) (68.01,224) (68.15,250) (68.31,286) (68.45,245) (68.65,224) (68.81,220) (69.2,216) (69.6,214) (70.0,216) (70.5,213) (71.0,215) (71.5,213) (72.0,215) (72.5,213) (73.0,215) (73.35,218) (73.53,228) (73.7,216) (74.1,213) (74.6,215) (75.1,213) (75.55,216) (75.77,218) (75.95,214) (76.4,213) (76.9,215) (77.4,213) (77.6,216) (77.76,220) (77.92,214) (78.5,214) (79.0,216) (79.5,214) (79.85,218) (80,234)};
% SC1KZM-450d
\addplot[color=crd] coordinates {(5.1,590) (5.4,583) (5.7,584) (6.0,578) (6.3,579) (6.6,574) (6.9,576) (7.2,570) (7.5,571) (7.8,566) (8.1,568) (8.4,563) (8.7,566) (8.98,568) (9.15,578) (9.3,566) (9.55,556) (9.85,552) (10.1,554) (10.35,556) (10.6,562) (10.75,552) (11.1,546) (11.4,548) (11.6,553) (11.74,566) (11.88,548) (12.1,544) (12.34,542) (12.55,545) (12.69,548) (12.85,540) (13.1,535) (13.33,532) (13.6,535) (13.85,540) (13.98,560) (14.1,538) (14.35,533) (14.58,532) (14.9,529) (15.2,531) (15.5,528) (15.8,532) (15.97,542) (16.1,528) (16.5,526) (16.9,528) (17.3,525) (17.7,527) (18.02,532) (18.16,592) (18.3,530) (18.6,526) (18.8,528) (19.1,524) (19.4,527) (19.7,524) (20.0,527) (20.3,525) (20.6,527) (20.83,540) (20.95,760) (21.07,540) (21.25,526) (21.6,524) (21.85,526) (22.0,535) (22.1,617) (22.22,530) (22.5,524) (22.8,527) (22.95,540) (23.05,554) (23.15,532) (23.35,535) (23.5,555) (23.6,596) (23.72,540) (23.9,530) (24.2,535) (24.35,576) (24.5,532) (24.7,525) (25.0,527) (25.3,528) (25.48,540) (25.6,559) (25.75,538) (26.05,526) (26.3,545) (26.45,600) (26.58,780) (26.7,900) (26.82,760) (26.95,580) (27.1,550) (27.25,545) (27.4,580) (27.55,924) (27.65,600) (27.75,570) (27.85,620) (27.95,739) (28.05,620) (28.15,570) (28.3,566) (28.45,572) (28.65,540) (28.9,534) (29.15,540) (29.35,560) (29.5,610) (29.62,560) (29.8,540) (30.1,544) (30.35,552) (30.55,568) (30.7,552) (30.9,545) (31.2,540) (31.5,538) (31.8,535) (32.1,537) (32.3,540) (32.55,530) (32.9,526) (33.2,528) (33.5,525) (33.8,530) (33.98,545) (34.1,572) (34.25,550) (34.45,552) (34.58,558) (34.8,545) (35.0,552) (35.12,563) (35.3,548) (35.6,544) (35.97,546) (36.3,538) (36.52,545) (36.67,587) (36.82,540) (37.21,530) (37.6,532) (38.0,530) (38.46,534) (38.8,530) (39.2,532) (39.38,545) (39.5,587) (39.62,542) (39.95,530) (40.25,536) (40.45,562) (40.6,536) (40.95,532) (41.3,534) (41.6,538) (41.84,548) (42.05,535) (42.35,540) (42.54,584) (42.7,538) (43.18,530) (43.6,528) (44.0,530) (44.5,527) (44.9,530) (45.3,528) (45.7,536) (45.92,554) (46.1,536) (46.52,534) (46.9,532) (47.21,556) (47.4,536) (47.91,532) (48.3,534) (48.7,532) (49.0,542) (49.3,534) (49.7,532) (50.0,545) (50.12,580) (50.25,621) (50.4,570) (50.6,550) (50.8,546) (51.05,532) (51.39,524) (51.8,526) (52.2,523) (52.6,526) (53.0,524) (53.4,526) (53.8,523) (54.2,526) (54.6,525) (54.85,532) (55.02,540) (55.2,530) (55.62,526) (56.0,524) (56.4,526) (56.8,523) (57.2,526) (57.6,523) (58.0,525) (58.4,523) (58.76,534) (58.95,524) (59.5,526) (59.85,532) (60.05,563) (60.2,530) (60.6,524) (61.0,526) (61.4,523) (61.8,526) (62.2,523) (62.5,526) (62.9,523) (63.3,525) (63.7,528) (64.08,542) (64.25,528) (64.83,524) (65.2,526) (65.6,523) (66.0,525) (66.5,523) (67.0,525) (67.4,528) (67.62,535) (67.81,538) (68.0,534) (68.31,546) (68.5,530) (68.81,524) (69.2,522) (69.6,524) (70.0,521) (70.5,523) (71.0,521) (71.5,523) (72.0,521) (72.5,523) (73.0,521) (73.35,526) (73.53,534) (73.7,524) (74.2,521) (74.7,523) (75.2,521) (75.6,525) (75.77,528) (75.93,522) (76.5,521) (77.0,523) (77.5,521) (78.0,523) (78.5,521) (79.0,523) (79.5,521) (79.85,523) (80,524)};
% SC2KZM-28d
\addplot[color=clg] coordinates {(5.1,752) (5.4,746) (5.7,749) (6.0,743) (6.3,746) (6.6,741) (6.9,744) (7.2,739) (7.5,742) (7.8,738) (8.1,741) (8.4,737) (8.7,740) (8.98,738) (9.15,746) (9.3,736) (9.6,734) (9.85,731) (10.1,734) (10.4,731) (10.7,736) (10.9,728) (11.2,722) (11.4,718) (11.6,716) (11.85,719) (12.1,712) (12.4,709) (12.65,711) (12.84,709) (13.1,705) (13.4,709) (13.7,713) (13.98,716) (14.2,704) (14.5,698) (14.8,694) (15.07,693) (15.4,690) (15.7,692) (16.0,688) (16.3,690) (16.6,687) (16.9,689) (17.2,686) (17.5,689) (17.8,687) (18.05,694) (18.16,722) (18.28,692) (18.56,688) (18.9,690) (19.2,687) (19.5,689) (19.8,686) (20.1,689) (20.4,687) (20.7,690) (20.85,700) (20.95,830) (21.05,700) (21.2,686) (21.5,683) (21.8,686) (22.0,692) (22.1,728) (22.22,688) (22.5,683) (22.8,686) (22.95,694) (23.05,700) (23.15,690) (23.35,694) (23.5,705) (23.6,717) (23.72,696) (23.9,690) (24.15,695) (24.35,721) (24.5,692) (24.7,683) (25.0,685) (25.3,687) (25.45,695) (25.55,704) (25.7,690) (26.05,683) (26.25,700) (26.4,760) (26.52,880) (26.65,950) (26.78,820) (26.9,705) (27.1,700) (27.3,706) (27.45,740) (27.55,786) (27.65,730) (27.75,718) (27.9,740) (28.05,815) (28.15,740) (28.25,712) (28.5,700) (28.8,693) (29.1,698) (29.3,720) (29.5,773) (29.6,730) (29.75,712) (29.9,720) (30.0,732) (30.15,712) (30.3,706) (30.42,712) (30.5,715) (30.65,704) (30.9,696) (31.2,694) (31.5,692) (31.8,690) (32.1,693) (32.3,699) (32.5,690) (32.8,688) (33.1,690) (33.4,687) (33.7,690) (33.98,700) (34.1,721) (34.25,700) (34.48,700) (34.7,694) (34.9,698) (35.0,702) (35.15,694) (35.5,692) (35.8,689) (36.1,690) (36.5,696) (36.67,746) (36.82,694) (37.21,688) (37.6,690) (38.0,688) (38.46,690) (38.9,688) (39.3,695) (39.5,753) (39.65,700) (39.95,700) (40.2,704) (40.45,724) (40.6,704) (40.9,704) (41.1,708) (41.29,718) (41.45,704) (41.6,706) (41.8,708) (41.94,714) (42.15,700) (42.35,706) (42.54,738) (42.7,700) (42.95,694) (43.18,694) (43.6,691) (44.0,692) (44.5,690) (44.9,692) (45.3,690) (45.7,698) (45.92,716) (46.1,696) (46.42,690) (46.8,692) (47.1,698) (47.26,706) (47.45,694) (47.9,693) (48.2,696) (48.4,694) (48.8,692) (49.1,694) (49.4,692) (49.8,700) (50.05,730) (50.25,785) (50.4,730) (50.6,705) (50.8,700) (51.05,692) (51.4,687) (51.8,689) (52.2,686) (52.6,688) (53.0,686) (53.4,688) (53.8,685) (54.2,688) (54.6,690) (54.8,697) (54.98,706) (55.15,695) (55.62,688) (56.0,686) (56.4,688) (56.8,685) (57.2,687) (57.5,686) (57.9,688) (58.3,685) (58.7,688) (59.1,686) (59.5,688) (59.85,700) (60.05,755) (60.2,700) (60.6,685) (61.0,687) (61.4,684) (61.8,686) (62.2,684) (62.5,686) (62.9,684) (63.3,686) (63.7,690) (64.08,698) (64.25,690) (64.83,685) (65.2,687) (65.6,684) (66.0,686) (66.5,684) (67.0,686) (67.4,690) (67.62,700) (67.81,704) (68.0,700) (68.15,712) (68.31,730) (68.5,702) (68.81,686) (69.2,684) (69.6,686) (70.0,683) (70.5,685) (71.0,683) (71.5,685) (72.0,683) (72.5,685) (73.0,683) (73.35,687) (73.53,690) (73.7,684) (74.2,683) (74.7,685) (75.2,683) (75.6,688) (75.77,690) (75.93,684) (76.5,683) (77.0,685) (77.5,683) (78.0,685) (78.5,683) (79.0,685) (79.5,683) (79.85,685) (80,685)};
% SC2KZM-450d
\addplot[color=cdg] coordinates {(5.1,878) (5.3,872) (5.5,876) (5.7,868) (5.9,872) (6.1,866) (6.3,874) (6.6,868) (6.9,872) (7.2,865) (7.5,869) (7.8,864) (8.1,867) (8.4,863) (8.7,866) (8.98,868) (9.15,876) (9.3,862) (9.6,860) (9.85,858) (10.1,862) (10.4,859) (10.7,863) (11.1,862) (11.4,858) (11.7,856) (12.09,849) (12.4,846) (12.7,844) (13.0,842) (13.3,844) (13.58,841) (13.85,836) (14.1,832) (14.35,828) (14.58,825) (14.9,823) (15.2,824) (15.5,822) (15.8,826) (15.97,831) (16.15,822) (16.5,820) (16.9,822) (17.3,819) (17.7,821) (18.05,824) (18.16,844) (18.3,823) (18.6,820) (18.8,822) (19.1,819) (19.4,821) (19.7,818) (20.0,821) (20.3,819) (20.6,822) (20.85,830) (20.95,960) (21.06,830) (21.2,822) (21.5,819) (21.8,822) (22.0,830) (22.1,908) (22.22,828) (22.5,822) (22.8,825) (22.9,828) (23.0,835) (23.12,826) (23.25,822) (23.45,830) (23.6,850) (23.72,830) (23.9,823) (24.15,828) (24.35,844) (24.5,828) (24.65,820) (24.9,822) (25.2,824) (25.38,835) (25.5,851) (25.65,832) (26.0,818) (26.2,835) (26.35,880) (26.45,1000) (26.55,1100) (26.78,1100) (26.88,950) (26.97,845) (27.15,837) (27.35,840) (27.5,850) (27.6,859) (27.7,845) (27.8,842) (27.9,860) (28.0,900) (28.12,850) (28.3,830) (28.6,826) (28.9,822) (29.15,828) (29.35,840) (29.5,864) (29.62,838) (29.85,833) (30.1,835) (30.35,832) (30.5,837) (30.7,832) (31.0,830) (31.3,826) (31.7,822) (32.0,825) (32.3,833) (32.5,824) (32.8,820) (33.1,822) (33.5,818) (33.8,822) (33.98,830) (34.1,846) (34.25,832) (34.5,832) (34.8,830) (35.1,838) (35.3,830) (35.6,830) (36.0,828) (36.5,834) (36.67,866) (36.82,828) (37.21,823) (37.6,825) (38.0,822) (38.46,824) (38.9,822) (39.3,828) (39.55,863) (39.7,830) (39.95,827) (40.2,830) (40.45,848) (40.6,828) (40.95,823) (41.3,825) (41.6,822) (42.0,822) (42.35,828) (42.54,846) (42.7,826) (43.18,820) (43.6,822) (44.0,820) (44.5,821) (44.9,819) (45.3,822) (45.7,828) (45.92,843) (46.1,826) (46.42,821) (46.8,823) (47.1,826) (47.26,833) (47.45,822) (47.9,821) (48.41,821) (48.8,823) (49.2,821) (49.5,823) (49.9,830) (50.1,870) (50.25,909) (50.4,860) (50.6,842) (50.8,839) (51.05,828) (51.39,821) (51.8,819) (52.2,821) (52.6,818) (53.0,820) (53.4,817) (53.8,820) (54.2,818) (54.6,822) (54.85,832) (55.02,843) (55.2,830) (55.62,821) (56.0,819) (56.4,821) (56.8,818) (57.2,820) (57.6,818) (58.0,820) (58.4,818) (58.86,824) (59.1,818) (59.5,820) (59.85,830) (60.05,860) (60.2,828) (60.6,819) (61.0,821) (61.4,818) (61.8,820) (62.2,817) (62.5,819) (62.9,817) (63.3,819) (63.7,822) (64.08,830) (64.25,820) (64.83,817) (65.2,819) (65.6,816) (66.0,818) (66.5,816) (67.0,818) (67.4,820) (67.62,824) (67.81,827) (68.0,826) (68.15,832) (68.31,841) (68.5,824) (68.81,815) (69.2,813) (69.6,815) (70.0,812) (70.5,814) (71.0,812) (71.5,814) (72.0,812) (72.5,814) (73.0,812) (73.35,816) (73.53,825) (73.7,814) (74.2,812) (74.7,814) (75.2,812) (75.6,818) (75.77,824) (75.93,814) (76.5,812) (77.0,814) (77.5,813) (77.76,817) (78.0,813) (78.5,812) (79.0,814) (79.5,812) (79.85,815) (80,825)};
\pklabels
\node[sl] at (axis cs:79.5,828) {SC2KZM-450d};
\node[sl] at (axis cs:79.5,692) {SC2KZM-28d};
\node[sl] at (axis cs:79.5,535) {SC1KZM-450d};
\node[sl] at (axis cs:79.5,359) {SC1KZM-28d};
\node[sl] at (axis cs:79.5,224) {SCM-450d};
\node[sl] at (axis cs:79.5,80) {SCM-28d};
\node[font=\bfseries\fontsize{13}{15}\selectfont] at (axis cs:77.78,979) {(d)};
\end{axis}
\end{tikzpicture}
\end{document}
